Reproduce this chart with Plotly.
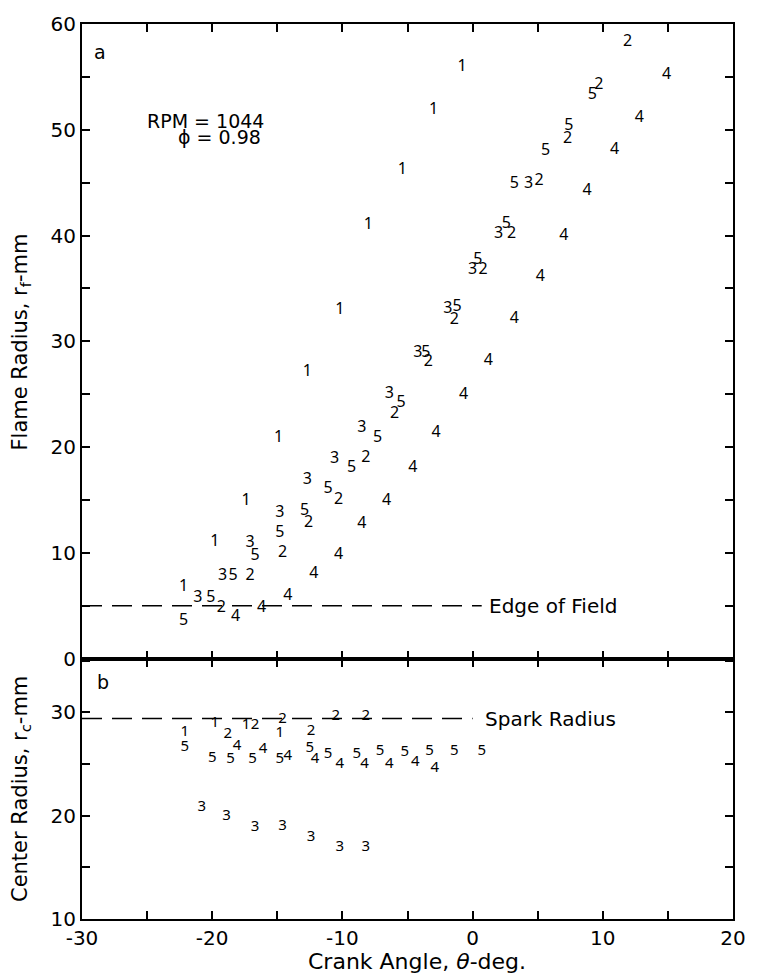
import plotly.graph_objects as go
from plotly.subplots import make_subplots

# ---- Panel a: flame radius r_f (mm) vs crank angle (deg), runs 1-5 ----
run1_angle = [-22.2, -19.8, -17.4, -14.9, -12.7, -10.2, -8.0, -5.4, -3.0, -0.8]
run1_rf = [6.8, 11.0, 14.9, 20.9, 27.1, 33.0, 41.0, 46.2, 51.9, 55.9]

run2_angle = [-19.3, -17.1, -14.6, -12.6, -10.3, -8.2, -6.0, -3.4, -1.4, 0.8, 3.0, 5.1, 7.3, 9.7, 11.9]
run2_rf = [4.8, 7.8, 10.0, 12.8, 15.0, 19.0, 23.1, 28.0, 32.0, 36.7, 40.1, 45.2, 49.1, 54.2, 58.3]

run3_angle = [-21.1, -19.2, -17.1, -14.8, -12.7, -10.6, -8.5, -6.4, -4.2, -1.9, 0.0, 2.0, 4.3]
run3_rf = [5.7, 7.8, 10.9, 13.8, 16.9, 18.9, 21.8, 25.0, 28.9, 33.1, 36.7, 40.1, 44.9]

run4_angle = [-18.2, -16.2, -14.2, -12.2, -10.3, -8.5, -6.6, -4.6, -2.8, -0.7, 1.2, 3.2,
              5.2, 7.0, 8.8, 10.9, 12.8, 14.9]
run4_rf = [3.9, 4.8, 5.9, 8.0, 9.8, 12.7, 14.9, 18.0, 21.3, 24.9, 28.1, 32.1,
           36.1, 40.0, 44.2, 48.1, 51.1, 55.2]

run5_angle = [-22.2, -20.1, -18.4, -16.7, -14.8, -12.9, -11.1, -9.3, -7.3, -5.5, -3.6, -1.2,
              0.4, 2.6, 3.2, 5.6, 7.4, 9.2]
run5_rf = [3.6, 5.7, 7.8, 9.7, 11.9, 14.0, 16.0, 18.0, 20.9, 24.2, 28.9, 33.2,
           37.7, 41.1, 44.9, 48.0, 50.4, 53.3]

# ---- Panel b: flame centre radius r_c (mm) ----
run1_angle_c = [-22.1, -19.8, -17.4, -14.8]
run1_rc = [28.1, 28.9, 28.8, 28.0]

run2_angle_c = [-18.8, -16.7, -14.6, -12.4, -10.5, -8.2]
run2_rc = [27.9, 28.8, 29.3, 28.2, 29.6, 29.6]

run3_angle_c = [-20.8, -18.9, -16.7, -14.6, -12.4, -10.2, -8.2]
run3_rc = [20.8, 19.9, 18.9, 19.0, 17.9, 16.9, 16.9]

run4_angle_c = [-18.1, -16.1, -14.2, -12.1, -10.2, -8.3, -6.4, -4.4, -2.9]
run4_rc = [26.7, 26.4, 25.8, 25.5, 25.0, 25.0, 25.0, 25.2, 24.6]

run5_angle_c = [-22.1, -20.0, -18.6, -16.9, -14.8, -12.5, -11.1, -8.9, -7.1, -5.2, -3.3, -1.4, 0.7]
run5_rc = [26.6, 25.6, 25.5, 25.5, 25.5, 26.5, 25.9, 25.9, 26.2, 26.1, 26.2, 26.2, 26.2]

# reference levels
edge_of_field = 5.0
edge_line_end = 0.7
spark_radius = 29.4
spark_line_end = 0.0

# major (labelled) and minor ticks
x_major = [-30, -20, -10, 0, 10, 20]
x_major_text = ["-30", "-20", "-10", "0", "10", "20"]
x_minor = [-25, -15, -5, 5, 15]
ya_major = [0, 10, 20, 30, 40, 50, 60]
ya_minor = [5, 15, 25, 35, 45, 55]
yb_major = [10, 20, 30]
yb_minor = [15, 25, 35]

MARK_FONT = "Noto Sans"
TEXT_FONT = "DejaVu Sans"
INK = "black"

fig = make_subplots(rows=2, cols=1, shared_xaxes=False, vertical_spacing=0.0,
                    row_heights=[0.709, 0.291])

top_sets = [("1", run1_angle, run1_rf), ("2", run2_angle, run2_rf),
            ("3", run3_angle, run3_rf), ("4", run4_angle, run4_rf),
            ("5", run5_angle, run5_rf)]
bot_sets = [("1", run1_angle_c, run1_rc), ("2", run2_angle_c, run2_rc),
            ("3", run3_angle_c, run3_rc), ("4", run4_angle_c, run4_rc),
            ("5", run5_angle_c, run5_rc)]

for label, xs, ys in top_sets:
    fig.add_trace(go.Scatter(x=xs, y=ys, mode="text", text=[label] * len(xs),
                             textposition="middle center",
                             textfont=dict(family=MARK_FONT, size=16, color=INK),
                             name="run " + label, showlegend=False), row=1, col=1)
for label, xs, ys in bot_sets:
    fig.add_trace(go.Scatter(x=xs, y=ys, mode="text", text=[label] * len(xs),
                             textposition="middle center",
                             textfont=dict(family=MARK_FONT, size=15, color=INK),
                             name="run " + label, showlegend=False), row=2, col=1)

# dashed reference lines
fig.add_trace(go.Scatter(x=[-30, edge_line_end], y=[edge_of_field, edge_of_field],
                         mode="lines", line=dict(color=INK, width=1.6, dash="20px,10px"),
                         showlegend=False, hoverinfo="skip"), row=1, col=1)
fig.add_trace(go.Scatter(x=[-30, spark_line_end], y=[spark_radius, spark_radius],
                         mode="lines", line=dict(color=INK, width=1.6, dash="20px,10px"),
                         showlegend=False, hoverinfo="skip"), row=2, col=1)

minor_style = dict(ticks="inside", ticklen=8, tickwidth=1.5, tickcolor=INK, showgrid=False)
axis_common = dict(showline=True, linecolor=INK, linewidth=2, mirror="ticks",
                   ticks="inside", ticklen=8, tickwidth=1.5, tickcolor=INK,
                   showgrid=False, zeroline=False,
                   tickfont=dict(family=TEXT_FONT, size=20, color=INK))

fig.update_xaxes(range=[-30, 20], tickvals=x_major, ticktext=x_major_text,
                 minor=dict(tickvals=x_minor, **minor_style), **axis_common)
fig.update_xaxes(showticklabels=False, row=1, col=1)
fig.update_yaxes(range=[0, 60], tickvals=ya_major,
                 minor=dict(tickvals=ya_minor, **minor_style), row=1, col=1, **axis_common)
fig.update_yaxes(range=[10, 35.2], tickvals=yb_major,
                 minor=dict(tickvals=yb_minor, **minor_style), row=2, col=1, **axis_common)
fig.update_layout(yaxis=dict(domain=[0.2909, 1.0]), yaxis2=dict(domain=[0.0, 0.2909]))

txt = dict(family=TEXT_FONT, size=19, color=INK)
label_font = dict(family=TEXT_FONT, size=20, color=INK)
title_font = dict(family=TEXT_FONT, size=21, color=INK)
annotations = [
    dict(x=-28.6, y=57.4, xref="x", yref="y", text="a", showarrow=False,
         font=txt, xanchor="center", yanchor="middle"),
    dict(x=-28.4, y=32.9, xref="x2", yref="y2", text="b", showarrow=False,
         font=txt, xanchor="center", yanchor="middle"),
    dict(x=-25.2, y=50.8, xref="x", yref="y", text="RPM = 1044", showarrow=False,
         font=txt, xanchor="left", yanchor="middle"),
    dict(x=-22.8, y=49.3, xref="x", yref="y", text="\u03d5 = 0.98", showarrow=False,
         font=txt, xanchor="left", yanchor="middle"),
    dict(x=1.1, y=edge_of_field, xref="x", yref="y", text="Edge of Field", showarrow=False,
         font=label_font, xanchor="left", yanchor="middle"),
    dict(x=0.8, y=spark_radius, xref="x2", yref="y2", text="Spark Radius", showarrow=False,
         font=label_font, xanchor="left", yanchor="middle"),
    dict(x=-0.094, y=0.645, xref="paper", yref="paper",
         text="Flame Radius, r<sub>f</sub>-mm", textangle=-90, showarrow=False,
         font=title_font, xanchor="center", yanchor="middle"),
    dict(x=-0.094, y=0.145, xref="paper", yref="paper",
         text="Center Radius, r<sub>c</sub>-mm", textangle=-90, showarrow=False,
         font=title_font, xanchor="center", yanchor="middle"),
    dict(x=0.515, y=-0.048, xref="paper", yref="paper",
         text="Crank Angle, <i>\u03b8</i>-deg.", showarrow=False,
         font=dict(family=TEXT_FONT, size=22, color=INK), xanchor="center", yanchor="middle"),
]

fig.update_layout(
    width=758, height=977,
    margin=dict(l=82, r=16, t=15, b=58),
    paper_bgcolor="white", plot_bgcolor="white",
    showlegend=False,
    annotations=annotations,
)

fig.write_html("out.html")
